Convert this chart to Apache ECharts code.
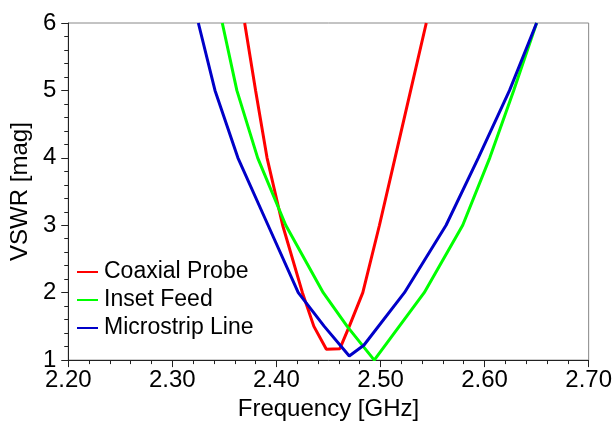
<!DOCTYPE html>
<html><head><meta charset="utf-8">
<script src="https://cdn.jsdelivr.net/npm/echarts@6/dist/echarts.min.js"></script>
<style>html,body{margin:0;padding:0;background:#fff}#c{width:615px;height:426px}</style>
</head><body><div id="c"></div>
<script>
const xTicks = ['2.20','2.30','2.40','2.50','2.60','2.70'];
const seriesNames = ['Coaxial Probe','Inset Feed','Microstrip Line'];
const coaxFreq = [2.3695,2.380,2.391,2.406,2.425,2.436,2.448,2.461,2.470,2.483,2.499,2.514,2.529,2.544];
const coaxVswr = [6,5,4,3,2,1.5,1.16,1.17,1.5,2,3,4,5,6];
const insetFreq = [2.348,2.362,2.382,2.409,2.445,2.468,2.494,2.518,2.542,2.579,2.605,2.628,2.650];
const insetVswr = [6,5,4,3,2,1.5,1.0,1.5,2,3,4,5,6];
const microFreq = [2.325,2.341,2.363,2.392,2.421,2.446,2.470,2.484,2.523,2.563,2.594,2.624,2.650];
const microVswr = [6,5,4,3,2,1.5,1.06,1.22,2,3,4,5,6];
const colors = ['#ff0000','#00ff00','#0000c8'];

function zip(a,b){return a.map((v,i)=>[v,b[i]]);}
const font = 'Liberation Sans, Arial, sans-serif';
const chart = echarts.init(document.getElementById('c'), null, {renderer:'canvas'});
chart.setOption({
  animation:false,
  grid:{left:60,right:24,top:23,bottom:58,show:true,borderColor:'#888',borderWidth:1},
  legend:{orient:'vertical',left:72,top:255,itemWidth:21,itemHeight:2,itemGap:4,icon:'rect',
    textStyle:{fontFamily:font,fontSize:23,color:'#000',lineHeight:24,padding:[0,0,0,1]},
    data:seriesNames},
  xAxis:{type:'value',min:2.2,max:2.7,interval:0.1,
    name:'Frequency [GHz]',nameLocation:'middle',nameGap:33,
    nameTextStyle:{fontFamily:font,fontSize:24,color:'#000'},
    axisLine:{show:true,lineStyle:{color:'#222',width:1}},
    axisTick:{show:true,length:7,lineStyle:{color:'#222'}},
    minorTick:{show:true,splitNumber:5,length:4,lineStyle:{color:'#222'}},
    splitLine:{show:false},
    axisLabel:{margin:8,fontFamily:font,fontSize:24,color:'#000',
      formatter:v=>{const s=v.toFixed(2);return xTicks.includes(s)?s:'';}}},
  yAxis:{type:'value',min:1,max:6,interval:1,
    name:'VSWR [mag]',nameLocation:'middle',nameGap:27,nameRotate:90,
    nameTextStyle:{fontFamily:font,fontSize:24,color:'#000'},
    axisLine:{show:true,lineStyle:{color:'#222',width:1}},
    axisTick:{show:true,length:7,lineStyle:{color:'#222'}},
    minorTick:{show:true,splitNumber:5,length:4,lineStyle:{color:'#222'}},
    splitLine:{show:false},
    axisLabel:{margin:12,fontFamily:font,fontSize:24,color:'#000'}},
  series:[
    {name:seriesNames[0],type:'line',data:zip(coaxFreq,coaxVswr),smooth:false,showSymbol:false,lineStyle:{width:3,color:colors[0]},itemStyle:{color:colors[0]},clip:true},
    {name:seriesNames[1],type:'line',data:zip(insetFreq,insetVswr),smooth:false,showSymbol:false,lineStyle:{width:3,color:colors[1]},itemStyle:{color:colors[1]},clip:true},
    {name:seriesNames[2],type:'line',data:zip(microFreq,microVswr),smooth:false,showSymbol:false,lineStyle:{width:3,color:colors[2]},itemStyle:{color:colors[2]},clip:true}
  ]
});
</script></body></html>
